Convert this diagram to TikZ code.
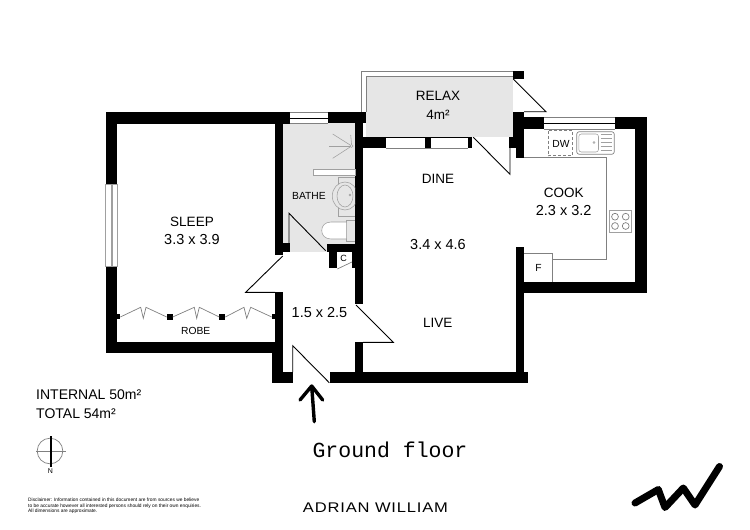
\documentclass[tikz,border=0pt]{standalone}
\usepackage{fontspec}
\setmainfont{Liberation Sans}
\newfontfamily\groundfont{Liberation Mono}
\newfontfamily\brandfont[LetterSpace=6,FakeStretch=1.18]{Liberation Sans}
\definecolor{roomgray}{HTML}{E6E6E6}
\definecolor{linegray}{HTML}{808080}
\definecolor{softgray}{HTML}{A0A0A0}
\tikzset{
  wall/.style={fill=black,draw=none},
  thinblack/.style={draw=black,line width=0.9pt,line join=miter},
  fixture/.style={draw=linegray,line width=0.7pt},
  softline/.style={draw=softgray,line width=0.55pt},
  lbl/.style={anchor=base,inner sep=0pt,font=\fontsize{13.5}{15}\selectfont},
  dim/.style={anchor=base,inner sep=0pt,font=\fontsize{14.5}{16}\selectfont},
  small/.style={anchor=base,inner sep=0pt,font=\fontsize{10.3}{12}\selectfont},
  areatext/.style={anchor=base west,inner sep=0pt,font=\fontsize{14}{16}\selectfont},
  disc/.style={anchor=base west,inner sep=0pt,font=\fontsize{4.85}{5}\selectfont},
}
\newcommand{\wl}[4]{\fill[wall] (#1,#2) rectangle (#3,#4);}
\begin{document}
\begin{tikzpicture}[x=1pt,y=-1pt]
\useasboundingbox (0,0) rectangle (750,530);
% grey rooms
\fill[roomgray] (366,76.7) rectangle (512.7,136.5);
\fill[roomgray] (283,123) rectangle (355,251.7);
% relax outline
\draw[fixture] (361.7,111.7) -- (361.7,71.7) -- (513,71.7);
\draw[fixture] (366,111.7) -- (366,76.7) -- (512.7,76.7);
% sleep walls
\wl{105.7}{112.3}{289.5}{123.7}
\wl{105.7}{112.3}{117}{184.3}
\wl{105.7}{266.7}{117}{353.3}
\wl{105.7}{342}{275}{353.3}
\wl{275}{112.3}{283.3}{255}
\wl{275}{243.3}{289.5}{251.7}
\wl{275}{292.3}{283.3}{342}
\wl{271.7}{342}{283.3}{383.3}
\wl{271.7}{371.7}{293.3}{383.3}
% bottom and central walls
\wl{330}{371.7}{527.7}{383.3}
\wl{355}{342.3}{363.3}{372}
\wl{355}{111.7}{363.3}{304.3}
\wl{328.3}{112.3}{366}{123.3}
\wl{355}{136.7}{386}{148.3}
\wl{425}{136.7}{430.7}{148.3}
\wl{468.3}{136.7}{472.3}{148.3}
% relax / kitchen walls
\wl{512.7}{71}{524.3}{79}
\wl{512.7}{111.7}{524.3}{137}
\wl{509.3}{137}{524.3}{148.3}
\wl{516}{148.3}{524.3}{157.7}
\wl{524}{117.3}{544.3}{129.3}
\wl{615}{117.3}{646.7}{129.3}
\wl{635}{117.3}{646.7}{293.3}
\wl{516}{281.7}{646.7}{293.3}
\wl{516}{246.7}{524.3}{383}
% bathroom / closet walls
\wl{326.7}{244}{355}{251.7}
\wl{329}{244}{337.3}{267.7}
\wl{351.7}{251}{355}{267.7}
% windows
\draw[softline] (105.7,184.3) rectangle (117,266.7);
\draw[softline,line width=1.1pt] (112,184.3) -- (112,266.7);
\draw[fixture] (289.5,112.3) -- (328.3,112.3) (289.5,123.5) -- (328.3,123.5);
\draw[black,line width=1.1pt] (289.5,118.3) -- (328.3,118.3);
\draw[black,line width=1pt] (386,137.5) -- (468.3,137.5);
\draw[fixture] (386,148) -- (468.3,148);
\draw[fixture] (544.3,117.8) -- (615,117.8) (544.3,129) -- (615,129);
\draw[black,line width=1pt] (544.3,123.5) -- (615,123.5);
% doors
\draw[thinblack] (473.3,137.3) -- (510,174.3) -- (510,148);
\draw[thinblack] (513.3,79) -- (546,111.7) -- (524,111.7);
\draw[thinblack] (289,243) -- (289,213.3) -- (325.7,250.7);
\draw[thinblack] (282.7,256) -- (245.7,292.3) -- (275,292.3);
\draw[thinblack] (356,305) -- (393.3,342.3) -- (363,342.3);
\draw[thinblack] (292.7,372) -- (292.7,345.7) -- (329.3,382.7);
\draw[fixture] (337.3,269) -- (352,262);
% robe
\wl{117}{314.2}{120.3}{319.2}
\wl{166.7}{314}{172.7}{319.5}
\wl{219.3}{314}{225.3}{319.5}
\wl{271.7}{314.2}{275}{319.2}
\draw[fixture] (120.3,317) -- (140.7,307.3) -- (143.3,318.3) -- (146,307.3) -- (166.7,317);
\draw[fixture] (172.7,317) -- (194.3,307.3) -- (196.7,318.3) -- (199.3,307.3) -- (219.3,317);
\draw[fixture] (225.3,317) -- (244,307.3) -- (246.7,318.3) -- (250.7,307.3) -- (271.7,317);
% kitchen fixtures
\draw[fixture] (524.3,157.7) -- (606.7,157.7) -- (606.7,259) -- (552.7,259);
\draw[fixture] (524.3,253.3) -- (552.7,253.3) -- (552.7,281.7);
\draw[fixture,densely dashed] (548.3,130.7) rectangle (572.7,155.7);
\draw[fixture,rounded corners=2.5pt] (576.7,131.7) rectangle (614.3,154.3);
\draw[softline,rounded corners=2.5pt] (578.8,134) rectangle (598.5,152);
\draw[softline] (594,142.5) circle (1);
\foreach \yy in {134.5,138.5,142.5,146.5,150.5}{\draw[softline] (600.5,\yy) -- (611.5,\yy);}
\draw[softline] (609,210) rectangle (631.3,232.3);
\foreach \cx/\cy in {615/216.7,625.7/216.7,615/226,625.7/226}{\draw[fixture] (\cx,\cy) circle (3.4);}
% bathroom fixtures
\foreach \ex/\ey in {332.7/134,329.3/146,332.7/158.3,350.7/135}{\draw[softline] (351.7,146) -- (\ex,\ey);}
\draw[softline,fill=white] (351.7,146) circle (1.4);
\draw[softline,fill=white] (313.3,169.3) rectangle (355,175);
\draw[softline] (355,177.3) -- (338,177.3) -- (338,216.7) -- (355,216.7);
\begin{scope}
\clip (325,175) rectangle (355,220);
\draw[softline,fill=roomgray] (345,196) ellipse (12.7 and 14);
\draw[softline] (345,196) ellipse (8 and 11);
\draw[softline] (350,195) circle (1);
\end{scope}
\draw[softline] (355,220) -- (346.7,220) -- (346.7,241.7) -- (355,241.7);
\draw[softline,fill=white] (346.7,222) -- (331,222) .. controls (325,222) and (321.7,226) .. (321.7,230.5) .. controls (321.7,235) and (325,239) .. (331,239) -- (346.7,239) -- cycle;
% entry arrow
\coordinate (arrowtail) at (314.3,421.7);
\coordinate (arrowapex) at (311.7,386);
\coordinate (arrowleft) at (300,400);
\coordinate (arrowright) at (322.7,400);
\draw[line width=3.4pt,line cap=round,line join=round] (arrowtail) -- (arrowapex) (arrowleft) -- (arrowapex) -- (arrowright);
% compass
\draw[draw=linegray,line width=0.7pt] (50,451) circle (12.8);
\draw[draw=linegray,line width=0.7pt] (36,451.5) -- (66,451.5);
\draw[line width=2pt] (50.5,436) -- (50.5,466.7);
% logo
\draw[line width=7pt,line cap=round,line join=round] (635,503) -- (658.3,489.5) -- (665,507.5) -- (683.3,488) -- (695,505) -- (719.5,466.5);
% labels
\node[lbl] (relax) at (438,100.5) {RELAX};
\node[lbl] (relaxa) at (438,119.5) {4m²};
\node[lbl] (dine) at (438,183.3) {DINE};
\node[dim] (dinedim) at (438,249) {3.4 x 4.6};
\node[lbl] (cook) at (563.7,197.3) {COOK};
\node[dim] (cookdim) at (563.7,215) {2.3 x 3.2};
\node[lbl] (sleep) at (192,226) {SLEEP};
\node[dim] (sleepdim) at (192,244) {3.3 x 3.9};
\node[small] (robe) at (195.7,334) {ROBE};
\node[small] (bathe) at (309,199.3) {BATHE};
\node[small] (dw) at (561,147.7) {DW};
\node[small] (fridge) at (538.5,271.7) {F};
\node[small,font=\fontsize{9}{10}\selectfont] (closet) at (343.5,261.7) {C};
\node[lbl] (live) at (437.7,327.3) {LIVE};
\node[dim] (halldim) at (319.5,317.3) {1.5 x 2.5};
\node[areatext] (internal) at (36,399) {INTERNAL 50m²};
\node[areatext] (total) at (36,418) {TOTAL 54m²};
\node[anchor=base,inner sep=0pt,font=\fontsize{7}{8}\selectfont] (north) at (50.5,473.5) {N};
\node[disc] (d1) at (28,501.3) {Disclaimer: Information contained in this document are from sources we believe};
\node[disc] (d2) at (28,507) {to be accurate however all interested persons should rely on their own enquiries.};
\node[disc] (d3) at (28,512.6) {All dimensions are approximate.};
\node[anchor=base,inner sep=0pt,font=\groundfont\fontsize{21.5}{24}\selectfont] (ground) at (390,457.3) {Ground floor};
\node[anchor=base,inner sep=0pt,font=\brandfont\fontsize{14}{15}\selectfont] (brand) at (375.5,512.7) {ADRIAN WILLIAM};
\end{tikzpicture}
\end{document}
